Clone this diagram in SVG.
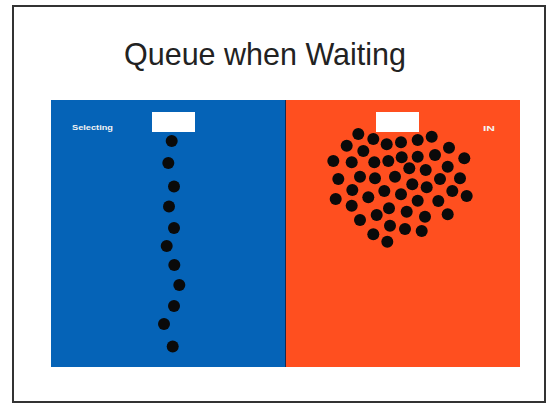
<svg xmlns="http://www.w3.org/2000/svg" width="550" height="405" viewBox="0 0 550 405">
<style>
.dot{fill:#0a0a0a}
.lbl{font-family:"Liberation Sans",Arial,sans-serif;font-size:7px;font-weight:bold;fill:#f4f4f4}
.box{fill:#ffffff}
</style>
<rect x="0" y="0" width="550" height="405" fill="#ffffff"/>
<rect id="frame" x="13" y="6" width="532" height="396" fill="#ffffff" stroke="#333333" stroke-width="2"/>
<text id="title" x="265" y="65" text-anchor="middle" font-family="'Liberation Sans',Arial,sans-serif" font-size="30.5" fill="#222222">Queue when Waiting</text>
<g id="left-panel">
<rect x="51" y="100" width="234" height="267" fill="#0563b7"/>
<rect class="box" x="152" y="112" width="43" height="20"/>
<text class="lbl" x="72" y="130" textLength="41" lengthAdjust="spacingAndGlyphs">Selecting</text>
<g>
<circle class="dot" cx="171.7" cy="141" r="6"/>
<circle class="dot" cx="168.3" cy="163" r="6"/>
<circle class="dot" cx="174" cy="186.5" r="6"/>
<circle class="dot" cx="169" cy="206.5" r="6"/>
<circle class="dot" cx="174" cy="228" r="6"/>
<circle class="dot" cx="166.7" cy="246" r="6"/>
<circle class="dot" cx="174.3" cy="265" r="6"/>
<circle class="dot" cx="179.3" cy="285" r="6"/>
<circle class="dot" cx="174" cy="306" r="6"/>
<circle class="dot" cx="164" cy="324" r="6"/>
<circle class="dot" cx="172.7" cy="346.5" r="6"/>
</g>
</g>
<g id="right-panel">
<rect x="285" y="100" width="235" height="267" fill="#ff4f1f"/>
<line x1="285.5" y1="100" x2="285.5" y2="367" stroke="#1a2a50" stroke-width="1"/>
<rect class="box" x="376" y="112" width="43" height="20"/>
<text class="lbl" x="483" y="131" textLength="12" lengthAdjust="spacingAndGlyphs">IN</text>
<g>
<circle class="dot" cx="358.3" cy="134" r="6"/>
<circle class="dot" cx="373.3" cy="139" r="6"/>
<circle class="dot" cx="386.7" cy="144.3" r="6"/>
<circle class="dot" cx="401" cy="142.3" r="6"/>
<circle class="dot" cx="417.7" cy="140" r="6"/>
<circle class="dot" cx="431.7" cy="136.7" r="6"/>
<circle class="dot" cx="346.7" cy="145.7" r="6"/>
<circle class="dot" cx="363.3" cy="151" r="6"/>
<circle class="dot" cx="449" cy="147.7" r="6"/>
<circle class="dot" cx="333.3" cy="161" r="6"/>
<circle class="dot" cx="351.7" cy="162.3" r="6"/>
<circle class="dot" cx="374.3" cy="162.3" r="6"/>
<circle class="dot" cx="388.3" cy="161" r="6"/>
<circle class="dot" cx="401.7" cy="157.3" r="6"/>
<circle class="dot" cx="417.7" cy="156.7" r="6"/>
<circle class="dot" cx="435" cy="155" r="6"/>
<circle class="dot" cx="464.3" cy="158.3" r="6"/>
<circle class="dot" cx="409.3" cy="168.3" r="6"/>
<circle class="dot" cx="425.7" cy="170" r="6"/>
<circle class="dot" cx="447.7" cy="166.7" r="6"/>
<circle class="dot" cx="338.3" cy="179" r="6"/>
<circle class="dot" cx="360" cy="176.7" r="6"/>
<circle class="dot" cx="375" cy="178.3" r="6"/>
<circle class="dot" cx="395" cy="176.7" r="6"/>
<circle class="dot" cx="412.3" cy="184.3" r="6"/>
<circle class="dot" cx="440" cy="179" r="6"/>
<circle class="dot" cx="460" cy="178.3" r="6"/>
<circle class="dot" cx="352.3" cy="190" r="6"/>
<circle class="dot" cx="384.3" cy="191" r="6"/>
<circle class="dot" cx="426.7" cy="187.3" r="6"/>
<circle class="dot" cx="452.3" cy="191" r="6"/>
<circle class="dot" cx="335.7" cy="199" r="6"/>
<circle class="dot" cx="368.3" cy="197.3" r="6"/>
<circle class="dot" cx="401" cy="194.3" r="6"/>
<circle class="dot" cx="417.7" cy="200.7" r="6"/>
<circle class="dot" cx="438.3" cy="201" r="6"/>
<circle class="dot" cx="466.7" cy="196" r="6"/>
<circle class="dot" cx="351.7" cy="205.7" r="6"/>
<circle class="dot" cx="389" cy="208.3" r="6"/>
<circle class="dot" cx="406.7" cy="211.7" r="6"/>
<circle class="dot" cx="447.7" cy="214.3" r="6"/>
<circle class="dot" cx="360" cy="220" r="6"/>
<circle class="dot" cx="376.7" cy="215" r="6"/>
<circle class="dot" cx="425" cy="216.7" r="6"/>
<circle class="dot" cx="390" cy="225.7" r="6"/>
<circle class="dot" cx="405" cy="229" r="6"/>
<circle class="dot" cx="421.7" cy="231" r="6"/>
<circle class="dot" cx="373.3" cy="234.3" r="6"/>
<circle class="dot" cx="387.3" cy="241.7" r="6"/>
</g>
</g>
</svg>
